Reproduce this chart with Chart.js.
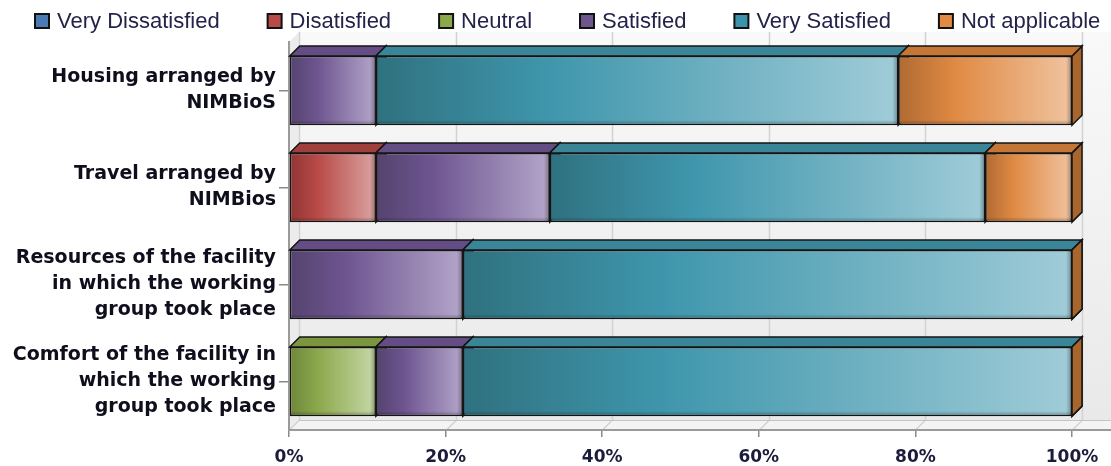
<!DOCTYPE html>
<html>
<head>
<meta charset="utf-8">
<script src="https://cdn.jsdelivr.net/npm/chart.js@4/dist/chart.umd.min.js"></script>
<style>
html,body{margin:0;padding:0;background:#ffffff;}
#wrap{width:1111px;height:466px;position:relative;}
</style>
</head>
<body>
<div id="wrap"><canvas id="c" width="1111" height="466"></canvas></div>
<script>
// ---- data ----
const categories = [
  ["Housing arranged by", "NIMBioS"],
  ["Travel arranged by", "NIMBios"],
  ["Resources of the facility", "in which the working", "group took place"],
  ["Comfort of the facility in", "which the working", "group took place"]
];
const seriesNames = ["Very Dissatisfied", "Disatisfied", "Neutral", "Satisfied", "Very Satisfied", "Not applicable"];
const veryDissatisfied = [0, 0, 0, 0];
const dissatisfied     = [0, 11.1, 0, 0];
const neutral          = [0, 0, 0, 11.1];
const satisfied        = [11.1, 22.2, 22.2, 11.1];
const verySatisfied    = [66.7, 55.6, 77.8, 77.8];
const notApplicable    = [22.2, 11.1, 0, 0];
const xTickValues      = [0, 20, 40, 60, 80, 100];

const seriesValues = [veryDissatisfied, dissatisfied, neutral, satisfied, verySatisfied, notApplicable];

// ---- styles ----
const palette = [
  {legend:'#4a7ab4', dark:'#34588a', base:'#4a7ab4', light:'#a8c0e0', top:'#3f6a9e', side:'#34588a'},
  {legend:'#b84a47', dark:'#8e3534', base:'#b84a47', light:'#dba4a2', top:'#a0403d', side:'#8e3534'},
  {legend:'#8ca84c', dark:'#6c863a', base:'#8ca84c', light:'#c6d8a8', top:'#7c963f', side:'#6c863a'},
  {legend:'#6e5590', dark:'#54436e', base:'#6e5590', light:'#b4a6ca', top:'#644c84', side:'#54436e'},
  {legend:'#3d94aa', dark:'#2f717f', base:'#3f96ac', light:'#a0ccd8', top:'#3a8598', side:'#2f717f'},
  {legend:'#e08a44', dark:'#b06a32', base:'#e08a44', light:'#f0c4a0', top:'#c47636', side:'#a8652c'}
];
const DEPTH = 10;
const EDGE = '#141414';

function startOf(d, i) {
  let s = 0;
  for (let k = 0; k < d; k++) s += seriesValues[k][i];
  return s;
}

function frontFill(d) {
  return function(ctx) {
    const chart = ctx.chart;
    const xs = chart.scales && chart.scales.x;
    if (!xs || ctx.dataIndex === undefined) return palette[d].base;
    const s = startOf(d, ctx.dataIndex);
    const e = s + seriesValues[d][ctx.dataIndex];
    const x0 = xs.getPixelForValue(s), x1 = xs.getPixelForValue(e);
    if (!isFinite(x0) || !isFinite(x1) || x1 - x0 < 1) return palette[d].base;
    const g = chart.ctx.createLinearGradient(x0, 0, x1, 0);
    g.addColorStop(0, palette[d].dark);
    g.addColorStop(0.33, palette[d].base);
    g.addColorStop(1, palette[d].light);
    return g;
  };
}

function barBox(el) {
  const p = el.getProps(['x', 'base', 'y', 'height'], true);
  const left = Math.min(p.x, p.base), right = Math.max(p.x, p.base);
  return {left, right, top: p.y - p.height / 2, bottom: p.y + p.height / 2};
}

// wall, floor and back grid
const wallPlugin = {
  id: 'wall',
  beforeDraw(chart) {
    const {ctx, chartArea: a, width: W} = chart;
    const xs = chart.scales.x;
    ctx.save();
    const g = ctx.createLinearGradient(0, a.top - DEPTH, 0, a.bottom - DEPTH);
    g.addColorStop(0, '#f9f9f9');
    g.addColorStop(1, '#e9e9e9');
    ctx.fillStyle = g;
    ctx.fillRect(a.left + DEPTH, a.top - DEPTH, W - a.left - DEPTH, a.bottom - a.top);
    ctx.fillStyle = '#ececec';
    ctx.beginPath();
    ctx.moveTo(a.left, a.top);
    ctx.lineTo(a.left + DEPTH, a.top - DEPTH);
    ctx.lineTo(a.left + DEPTH, a.bottom - DEPTH);
    ctx.lineTo(a.left, a.bottom);
    ctx.closePath();
    ctx.fill();
    ctx.fillStyle = '#f4f4f4';
    ctx.beginPath();
    ctx.moveTo(a.left, a.bottom);
    ctx.lineTo(W, a.bottom);
    ctx.lineTo(W, a.bottom - DEPTH);
    ctx.lineTo(a.left + DEPTH, a.bottom - DEPTH);
    ctx.closePath();
    ctx.fill();
    ctx.strokeStyle = '#d2d2d2';
    ctx.lineWidth = 1.5;
    xTickValues.forEach(v => {
      const px = Math.round(xs.getPixelForValue(v)) + DEPTH + 0.5;
      ctx.beginPath();
      ctx.moveTo(px, a.top - DEPTH);
      ctx.lineTo(px, a.bottom - DEPTH);
      ctx.stroke();
      ctx.beginPath();
      ctx.moveTo(px - DEPTH, a.bottom);
      ctx.lineTo(px, a.bottom - DEPTH);
      ctx.stroke();
    });
    ctx.strokeStyle = '#c4c4c4';
    ctx.lineWidth = 1;
    ctx.beginPath();
    ctx.moveTo(a.left + DEPTH, a.bottom - DEPTH + 0.5);
    ctx.lineTo(W, a.bottom - DEPTH + 0.5);
    ctx.stroke();
    ctx.strokeStyle = '#9a9a9a';
    ctx.lineWidth = 2;
    ctx.beginPath();
    ctx.moveTo(a.left, a.bottom);
    ctx.lineTo(W, a.bottom);
    ctx.stroke();
    ctx.restore();
  }
};

// 3D top and side faces
const facesPlugin = {
  id: 'faces',
  beforeDatasetsDraw(chart) {
    const ctx = chart.ctx;
    const n = chart.data.datasets.length;
    ctx.save();
    ctx.lineWidth = 1.5;
    ctx.strokeStyle = EDGE;
    ctx.lineJoin = 'miter';
    for (let d = 0; d < n; d++) {
      const meta = chart.getDatasetMeta(d);
      meta.data.forEach(el => {
        const b = barBox(el);
        const w = b.right - b.left;
        if (w >= 1 || d === n - 1) {
          ctx.fillStyle = palette[d].side;
          ctx.beginPath();
          ctx.moveTo(b.right, b.top);
          ctx.lineTo(b.right + DEPTH, b.top - DEPTH);
          ctx.lineTo(b.right + DEPTH, b.bottom - DEPTH);
          ctx.lineTo(b.right, b.bottom);
          ctx.closePath();
          ctx.fill();
          ctx.stroke();
        }
        if (w >= 1) {
          ctx.fillStyle = palette[d].top;
          ctx.beginPath();
          ctx.moveTo(b.left, b.top);
          ctx.lineTo(b.right, b.top);
          ctx.lineTo(b.right + DEPTH, b.top - DEPTH);
          ctx.lineTo(b.left + DEPTH, b.top - DEPTH);
          ctx.closePath();
          ctx.fill();
          ctx.stroke();
        }
      });
    }
    ctx.restore();
  },
  afterDatasetsDraw(chart) {
    const ctx = chart.ctx;
    ctx.save();
    chart.data.datasets.forEach((ds, d) => {
      chart.getDatasetMeta(d).data.forEach(el => {
        const b = barBox(el);
        if (b.right - b.left < 8) return;
        let g = ctx.createLinearGradient(b.right - 6, 0, b.right - 1, 0);
        g.addColorStop(0, 'rgba(0,0,0,0)');
        g.addColorStop(1, 'rgba(0,0,0,0.28)');
        ctx.fillStyle = g;
        ctx.fillRect(b.right - 6, b.top + 1, 5, b.bottom - b.top - 2);
        g = ctx.createLinearGradient(0, b.bottom - 5, 0, b.bottom - 1);
        g.addColorStop(0, 'rgba(0,0,0,0)');
        g.addColorStop(1, 'rgba(0,0,0,0.25)');
        ctx.fillStyle = g;
        ctx.fillRect(b.left + 1, b.bottom - 5, b.right - b.left - 2, 4);
      });
    });
    ctx.restore();
  }
};

// legend row
const legendPlugin = {
  id: 'legendRow',
  afterDraw(chart) {
    const ctx = chart.ctx;
    ctx.save();
    ctx.font = '22px "Liberation Sans", Arial, sans-serif';
    ctx.textBaseline = 'middle';
    ctx.textAlign = 'left';
    const cy = 21;
    const box = 14;
    let x = 35;
    chart.data.datasets.forEach((ds, d) => {
      ctx.fillStyle = palette[d].legend;
      ctx.fillRect(x, cy - box / 2, box, box);
      ctx.strokeStyle = '#111';
      ctx.lineWidth = 2;
      ctx.strokeRect(x, cy - box / 2, box, box);
      ctx.fillStyle = '#23234a';
      ctx.fillText(ds.label, x + 22, cy + 1);
      x += 22 + ctx.measureText(ds.label).width + 48;
    });
    ctx.restore();
  }
};

new Chart(document.getElementById('c'), {
  type: 'bar',
  data: {
    labels: categories,
    datasets: seriesNames.map((name, d) => ({
      label: name,
      data: seriesValues[d],
      backgroundColor: frontFill(d),
      borderColor: EDGE,
      borderWidth: 1.5,
      borderSkipped: false,
      barPercentage: 0.714,
      categoryPercentage: 1
    }))
  },
  options: {
    indexAxis: 'y',
    responsive: false,
    animation: false,
    devicePixelRatio: 1,
    layout: {padding: {top: 38.5, right: 39, left: 0, bottom: 0}},
    plugins: {legend: {display: false}, tooltip: {enabled: false}},
    scales: {
      x: {
        stacked: true,
        min: 0, max: 100,
        afterFit(scale) { scale.height = 36; },
        afterBuildTicks(scale) { scale.ticks = xTickValues.map(v => ({value: v})); },
        ticks: {
          callback: v => v + '%',
          font: {family: '"DejaVu Sans", Verdana, sans-serif', size: 17, weight: 'bold'},
          color: '#1b1b3c',
          padding: 10,
          maxRotation: 0
        },
        grid: {drawOnChartArea: false, drawTicks: true, tickLength: 7, color: '#8a8a8a', lineWidth: 1.5},
        border: {display: true, color: '#9a9a9a', width: 2}
      },
      y: {
        stacked: true,
        afterFit(scale) { scale.width = 289; },
        ticks: {
          font: {family: '"DejaVu Sans", Verdana, sans-serif', size: 19, weight: 'bold', lineHeight: 1.37},
          color: '#0e0e1c',
          padding: 3
        },
        grid: {offset: false, drawOnChartArea: false, drawTicks: true, tickLength: 10, color: '#8a8a8a', lineWidth: 1.5},
        border: {display: true, color: '#9a9a9a', width: 2}
      }
    }
  },
  plugins: [wallPlugin, facesPlugin, legendPlugin]
});
</script>
</body>
</html>
